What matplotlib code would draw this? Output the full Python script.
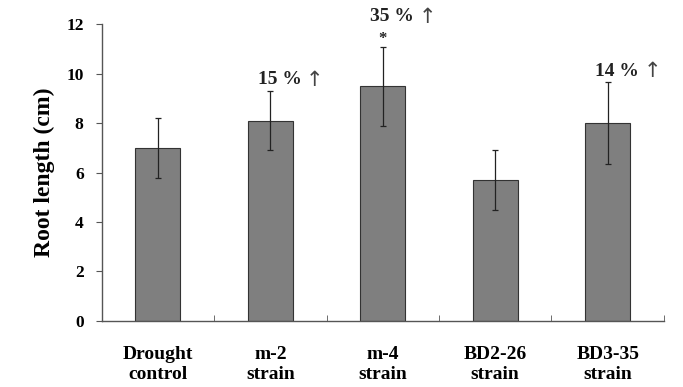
import matplotlib
matplotlib.use("Agg")
import matplotlib.pyplot as plt
import numpy as np

plt.rcParams['font.family'] = ['Liberation Serif', 'DejaVu Serif']

categories = ["Drought\ncontrol", "m-2\nstrain", "m-4\nstrain", "BD2-26\nstrain", "BD3-35\nstrain"]
root_length = [7.0, 8.1, 9.5, 5.7, 8.0]
errors = [1.2, 1.2, 1.6, 1.2, 1.65]
increase_labels = ["", "15 %", "35 %", "", "14 %"]
signif = ["", "", "*", "", ""]

fig = plt.figure(figsize=(6.83, 3.87), dpi=100)
ax = fig.add_axes([0.149, 0.171, 0.823, 0.766])

x = np.arange(len(categories))
ax.bar(x, root_length, width=0.4, color="#7f7f7f", edgecolor="#333333", linewidth=0.8, zorder=2)
ax.errorbar(x, root_length, yerr=errors, fmt="none", ecolor="#222222", elinewidth=0.9,
            capsize=2.5, capthick=0.9, zorder=3)

for i, lab in enumerate(increase_labels):
    if lab:
        top = root_length[i] + errors[i]
        if signif[i]:
            ty = top + 1.2
        else:
            ty = top + 0.45
        ax.text(i + 0.28, ty, lab, ha="right", va="center",
                fontsize=14, fontweight="bold", color="#222222", clip_on=False)
        ax.annotate("\u2191", (i + 0.28, ty), xytext=(3, 0), textcoords="offset points",
                    ha="left", va="center", fontsize=15, family="DejaVu Sans",
                    color="#444444", annotation_clip=False)
    if signif[i]:
        ax.text(i, root_length[i] + errors[i] + 0.3, signif[i], ha="center", va="center",
                fontsize=12, fontweight="bold", color="#222222", clip_on=False)

ax.set_xlim(-0.5, 4.5)
ax.set_ylim(0, 12)
ax.set_yticks(np.arange(0, 13, 2))
ax.set_xticks(x)
ax.set_xticklabels(categories, fontsize=14, fontweight="bold", linespacing=1.25)
ax.set_xticks(np.arange(0.5, 5, 1), minor=True)
ax.tick_params(axis="x", which="major", length=0, pad=18)
ax.tick_params(axis="x", which="minor", direction="in", length=4, color="#555555")
ax.tick_params(axis="y", direction="out", length=4, color="#555555", labelsize=12.5, pad=9)
for t in ax.get_yticklabels():
    t.set_fontweight("bold")

ax.set_ylabel("Root length (cm)", fontsize=17, fontweight="bold", labelpad=8)

for s in ["top", "right"]:
    ax.spines[s].set_visible(False)
for s in ["left", "bottom"]:
    ax.spines[s].set_color("#555555")
    ax.spines[s].set_linewidth(1.0)

fig.savefig("out.png", dpi=100)
